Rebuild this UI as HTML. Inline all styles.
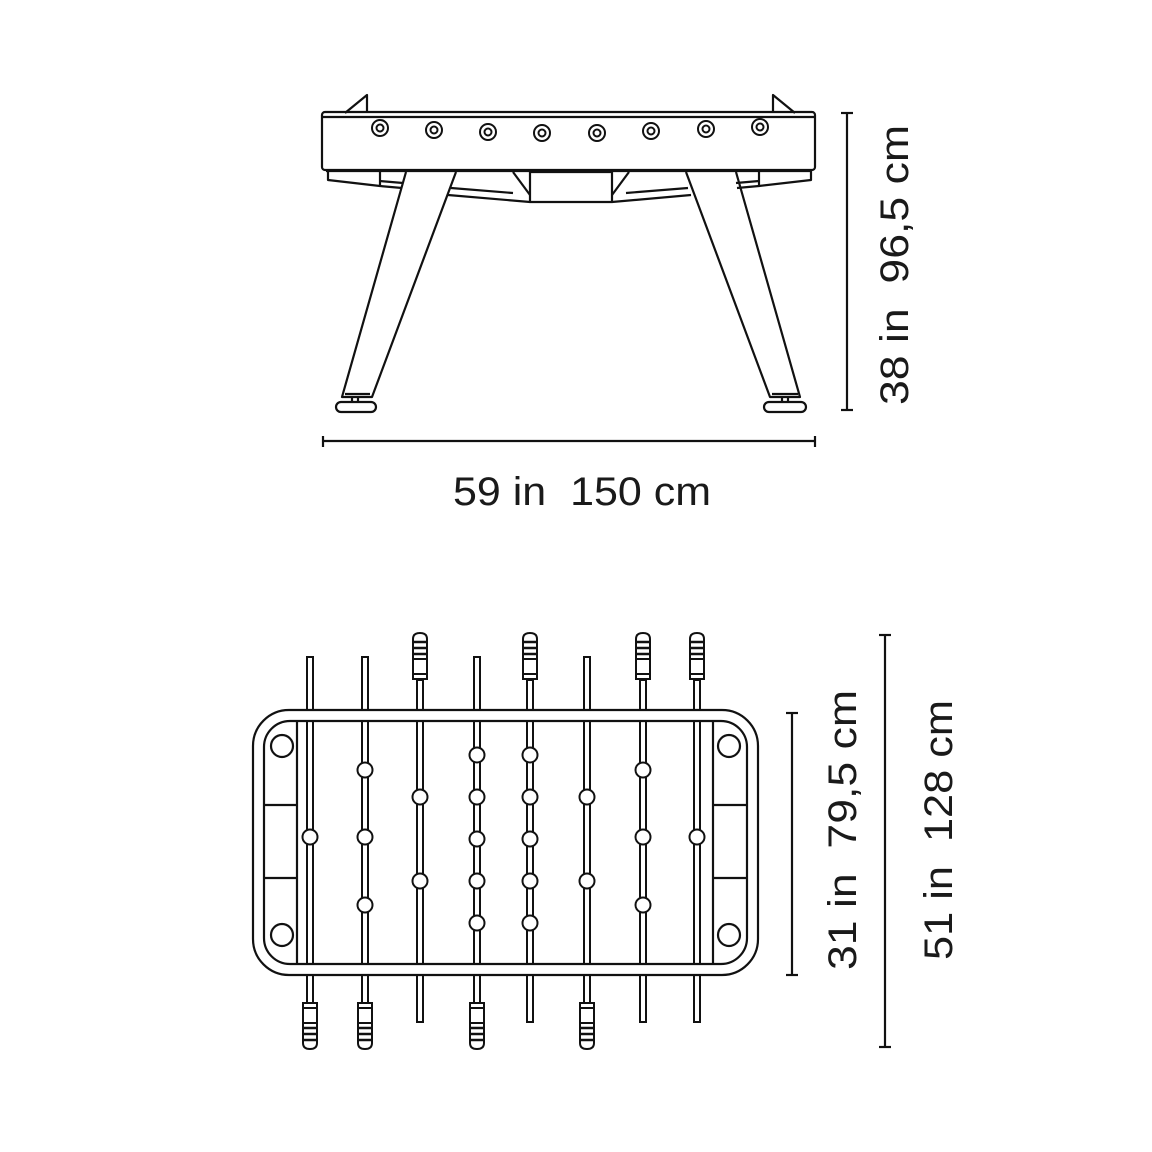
<!DOCTYPE html>
<html><head><meta charset="utf-8"><style>
html,body{margin:0;padding:0;background:#fff}
svg{display:block}
text{font-family:"Liberation Sans",sans-serif;fill:#1a1a1a}
</style></head><body>
<svg width="1152" height="1152" viewBox="0 0 1152 1152" xmlns="http://www.w3.org/2000/svg">
<rect width="1152" height="1152" fill="#fff"/>
<g fill="none" stroke="#111" stroke-width="2.2" stroke-linejoin="round">
<!-- SIDE VIEW -->
<!-- wings -->
<path d="M345 113 L367 95 L367 113"/>
<path d="M773 113 L773 95 L795 113"/>
<!-- rail -->
<rect x="322" y="112" width="493" height="58" rx="3"/>
<line x1="323" y1="117" x2="814" y2="117"/>
<line x1="326" y1="171" x2="811" y2="171"/>
<!-- under strips -->
<path d="M328 171 L328 180 L380 186 L402 188"/>
<path d="M380 171 L380 186"/>
<line x1="380" y1="181" x2="403" y2="183"/>
<path d="M811 171 L811 180 L759 186 L737 188"/>
<path d="M759 171 L759 186"/>
<line x1="759" y1="181" x2="736" y2="183"/>
<!-- beams -->
<path d="M451 188 L513 193"/>
<path d="M448 195 L530 202"/>
<path d="M688 188 L626 193"/>
<path d="M691 195 L612 202"/>
<!-- central box -->
<rect x="530" y="172" width="82" height="30"/>
<path d="M513 172 L530 195"/>
<path d="M629 172 L612 195"/>
<!-- legs -->
<path d="M406 172 L342 397 L372 397 L456 172"/>
<path d="M686 172 L770 397 L800 397 L736 172"/>
<line x1="345" y1="394" x2="370" y2="394"/>
<line x1="772" y1="394" x2="798" y2="394"/>
<!-- feet -->
<rect x="336" y="402" width="40" height="10" rx="5"/>
<rect x="764" y="402" width="42" height="10" rx="5"/>
<line x1="352" y1="398" x2="352" y2="402"/><line x1="358" y1="398" x2="358" y2="402"/>
<line x1="782" y1="398" x2="782" y2="402"/><line x1="788" y1="398" x2="788" y2="402"/>
<!-- rod holes -->
<g stroke-width="2">
<circle cx="380" cy="128" r="8"/><circle cx="380" cy="128" r="3.5"/>
<circle cx="434" cy="130" r="8"/><circle cx="434" cy="130" r="3.5"/>
<circle cx="488" cy="132" r="8"/><circle cx="488" cy="132" r="3.5"/>
<circle cx="542" cy="133" r="8"/><circle cx="542" cy="133" r="3.5"/>
<circle cx="597" cy="133" r="8"/><circle cx="597" cy="133" r="3.5"/>
<circle cx="651" cy="131" r="8"/><circle cx="651" cy="131" r="3.5"/>
<circle cx="706" cy="129" r="8"/><circle cx="706" cy="129" r="3.5"/>
<circle cx="760" cy="127" r="8"/><circle cx="760" cy="127" r="3.5"/>
</g>
<!-- dims side -->
<line x1="323" y1="441" x2="815" y2="441"/>
<line x1="323" y1="436" x2="323" y2="447"/>
<line x1="815" y1="436" x2="815" y2="447"/>
<line x1="847" y1="113" x2="847" y2="410"/>
<line x1="841" y1="113" x2="853" y2="113"/>
<line x1="841" y1="410" x2="853" y2="410"/>

<!-- TOP VIEW -->
<rect x="253" y="710" width="505" height="265" rx="36"/>
<rect x="264" y="721" width="483" height="243" rx="26"/>
<line x1="297" y1="721" x2="297" y2="964"/>
<line x1="713" y1="721" x2="713" y2="964"/>
<line x1="264" y1="805" x2="297" y2="805"/>
<line x1="264" y1="878" x2="297" y2="878"/>
<line x1="713" y1="805" x2="747" y2="805"/>
<line x1="713" y1="878" x2="747" y2="878"/>
<circle cx="282" cy="746" r="11"/><circle cx="282" cy="935" r="11"/>
<circle cx="729" cy="746" r="11"/><circle cx="729" cy="935" r="11"/>

<!-- dims top view -->
<line x1="792" y1="713" x2="792" y2="975"/>
<line x1="786" y1="713" x2="798" y2="713"/>
<line x1="786" y1="975" x2="798" y2="975"/>
<line x1="885" y1="635" x2="885" y2="1047"/>
<line x1="879" y1="635" x2="891" y2="635"/>
<line x1="879" y1="1047" x2="891" y2="1047"/>
</g>

<!-- rods -->
<defs>
<g id="rodIn" fill="none" stroke="#111" stroke-width="2">
<line x1="-3" y1="0" x2="-3" y2="243"/><line x1="3" y1="0" x2="3" y2="243"/>
</g>
<g id="handle" fill="#fff" stroke="#111" stroke-width="2">
<path d="M-7 46 L-7 6 Q-7 0 0 0 Q7 0 7 6 L7 46 Z"/>
<line x1="-7" y1="9" x2="7" y2="9" stroke-width="2.5"/>
<line x1="-7" y1="15" x2="7" y2="15" stroke-width="2.5"/>
<line x1="-7" y1="21" x2="7" y2="21" stroke-width="2.5"/>
<line x1="-7" y1="26" x2="7" y2="26"/>
<line x1="-7" y1="41" x2="7" y2="41"/>
</g>
</defs>
<g fill="none" stroke="#111" stroke-width="2">
<!-- each rod: outside segments -->
<!-- top plain rods (start 657) -->
<g id="tops">
<rect x="307" y="657" width="6" height="53"/>
<rect x="362" y="657" width="6" height="53"/>
<rect x="474" y="657" width="6" height="53"/>
<rect x="584" y="657" width="6" height="53"/>
<!-- top handle rods -->
<rect x="417" y="680" width="6" height="30"/>
<rect x="527" y="680" width="6" height="30"/>
<rect x="640" y="680" width="6" height="30"/>
<rect x="694" y="680" width="6" height="30"/>
<!-- bottom plain -->
<rect x="417" y="975" width="6" height="47"/>
<rect x="527" y="975" width="6" height="47"/>
<rect x="640" y="975" width="6" height="47"/>
<rect x="694" y="975" width="6" height="47"/>
<!-- bottom handle rods -->
<rect x="307" y="975" width="6" height="30"/>
<rect x="362" y="975" width="6" height="30"/>
<rect x="474" y="975" width="6" height="30"/>
<rect x="584" y="975" width="6" height="30"/>
</g>
</g>
<use href="#rodIn" x="310" y="721"/><use href="#rodIn" x="365" y="721"/>
<use href="#rodIn" x="420" y="721"/><use href="#rodIn" x="477" y="721"/>
<use href="#rodIn" x="530" y="721"/><use href="#rodIn" x="587" y="721"/>
<use href="#rodIn" x="643" y="721"/><use href="#rodIn" x="697" y="721"/>
<use href="#handle" x="420" y="633"/><use href="#handle" x="530" y="633"/>
<use href="#handle" x="643" y="633"/><use href="#handle" x="697" y="633"/>
<g transform="translate(0,2052) scale(1,-1)">
<use href="#handle" x="310" y="1003"/><use href="#handle" x="365" y="1003"/>
<use href="#handle" x="477" y="1003"/><use href="#handle" x="587" y="1003"/>
</g>
<!-- players -->
<g fill="#fff" stroke="#111" stroke-width="2">
<circle cx="310" cy="837" r="7.5"/>
<circle cx="365" cy="770" r="7.5"/><circle cx="365" cy="837" r="7.5"/><circle cx="365" cy="905" r="7.5"/>
<circle cx="420" cy="797" r="7.5"/><circle cx="420" cy="881" r="7.5"/>
<circle cx="477" cy="755" r="7.5"/><circle cx="477" cy="797" r="7.5"/><circle cx="477" cy="839" r="7.5"/><circle cx="477" cy="881" r="7.5"/><circle cx="477" cy="923" r="7.5"/>
<circle cx="530" cy="755" r="7.5"/><circle cx="530" cy="797" r="7.5"/><circle cx="530" cy="839" r="7.5"/><circle cx="530" cy="881" r="7.5"/><circle cx="530" cy="923" r="7.5"/>
<circle cx="587" cy="797" r="7.5"/><circle cx="587" cy="881" r="7.5"/>
<circle cx="643" cy="770" r="7.5"/><circle cx="643" cy="837" r="7.5"/><circle cx="643" cy="905" r="7.5"/>
<circle cx="697" cy="837" r="7.5"/>
</g>

<!-- labels -->
<text x="582" y="505" font-size="40" text-anchor="middle" textLength="258" lengthAdjust="spacingAndGlyphs" xml:space="preserve">59 in  150 cm</text>
<text transform="translate(908,265) rotate(-90)" font-size="40" text-anchor="middle" textLength="280" lengthAdjust="spacingAndGlyphs" xml:space="preserve">38 in  96,5 cm</text>
<text transform="translate(856,830) rotate(-90)" font-size="40" text-anchor="middle" textLength="280" lengthAdjust="spacingAndGlyphs" xml:space="preserve">31 in  79,5 cm</text>
<text transform="translate(952,830) rotate(-90)" font-size="40" text-anchor="middle" textLength="260" lengthAdjust="spacingAndGlyphs" xml:space="preserve">51 in  128 cm</text>
</svg>
</body></html>
